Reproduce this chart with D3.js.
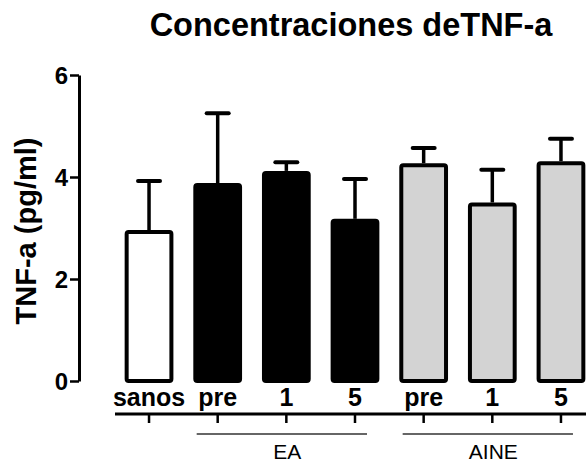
<!DOCTYPE html>
<html><head><meta charset="utf-8">
<script src="https://cdn.jsdelivr.net/npm/d3@7"></script>
<style>body{margin:0;background:#fff}svg{display:block}text{font-family:Arial,"Liberation Sans",sans-serif}</style>
</head><body>
<svg id="c" width="586" height="466"></svg>
<script>
const categories = ["sanos","pre","1","5","pre","1","5"];
const means = [2.96, 3.88, 4.12, 3.18, 4.27, 3.50, 4.31];
const errors = [0.96, 1.37, 0.17, 0.78, 0.30, 0.64, 0.44];
const fills = ["#ffffff","#000000","#000000","#000000","#d3d3d3","#d3d3d3","#d3d3d3"];
const yTicks = [0, 2, 4, 6];
const groups = [{label:"EA", from:1, to:3},{label:"AINE", from:4, to:6}];

const svg = d3.select("#c");
const y = d3.scaleLinear().domain([0,6]).range([381,75]);
const x = d3.scaleBand().domain(d3.range(categories.length)).range([114.7,595.3]).paddingInner(0.29).paddingOuter(0.145);

// title
svg.append("text").attr("x",351).attr("y",36).attr("text-anchor","middle")
  .attr("font-size",32.5).attr("font-weight","bold").text("Concentraciones deTNF-a");
// y label
svg.append("text").attr("transform","translate(36,231) rotate(-90)").attr("text-anchor","middle")
  .attr("font-size",29).attr("font-weight","bold").text("TNF-a (pg/ml)");

// y axis
const ya = svg.append("g").attr("transform","translate(79,0)")
  .call(d3.axisLeft(y).tickValues(yTicks).tickFormat(d3.format("d")).tickSize(9).tickPadding(2).tickSizeOuter(0));
ya.select(".domain").attr("stroke","#000").attr("stroke-width",3);
ya.selectAll(".tick line").attr("stroke","#000").attr("stroke-width",2.5);
ya.selectAll(".tick text").attr("font-size",24).attr("font-weight","bold").attr("fill","#000").attr("font-family","Arial, 'Liberation Sans', sans-serif").attr("dy","0.36em");

// x axis
const xa = svg.append("g").attr("transform","translate(0,414)")
  .call(d3.axisBottom(x).tickSize(9).tickFormat("").tickSizeOuter(0));
xa.select(".domain").attr("d","M115,0H586").attr("stroke","#000").attr("stroke-width",3);
xa.selectAll(".tick line").attr("stroke","#000").attr("stroke-width",2.5);

// category labels
svg.append("g").selectAll("text").data(categories).join("text")
  .attr("x",(d,i)=>x(i)+x.bandwidth()/2).attr("y",406).attr("text-anchor","middle")
  .attr("font-size",25).attr("font-weight","bold").text(d=>d);

// error bars
const eb = svg.append("g").selectAll("g").data(means).join("g");
eb.append("line").attr("x1",(d,i)=>x(i)+x.bandwidth()/2).attr("x2",(d,i)=>x(i)+x.bandwidth()/2)
  .attr("y1",d=>y(d)).attr("y2",(d,i)=>y(d+errors[i])).attr("stroke","#000").attr("stroke-width",3.5);
eb.append("line").attr("x1",(d,i)=>x(i)+x.bandwidth()/2-11).attr("x2",(d,i)=>x(i)+x.bandwidth()/2+11)
  .attr("y1",(d,i)=>y(d+errors[i])).attr("y2",(d,i)=>y(d+errors[i]))
  .attr("stroke","#000").attr("stroke-width",4).attr("stroke-linecap","round");

// bars
svg.append("g").selectAll("rect").data(means).join("rect")
  .attr("x",(d,i)=>x(i)+2).attr("width",x.bandwidth()-4)
  .attr("y",d=>y(d)+2).attr("height",d=>y(0)-y(d)-2)
  .attr("rx",2).attr("fill",(d,i)=>fills[i]).attr("stroke","#000").attr("stroke-width",4);

// group brackets
const gg = svg.append("g").selectAll("g").data(groups).join("g");
gg.append("line").attr("x1",d=>x(d.from)+x.bandwidth()/2-21).attr("x2",d=>x(d.to)+x.bandwidth()/2+12)
  .attr("y1",434).attr("y2",434).attr("stroke","#333").attr("stroke-width",1.3);
gg.append("text").attr("x",d=>(x(d.from)+x(d.to))/2+x.bandwidth()/2+1).attr("y",459)
  .attr("text-anchor","middle").attr("font-size",21).text(d=>d.label);
</script>
</body></html>
